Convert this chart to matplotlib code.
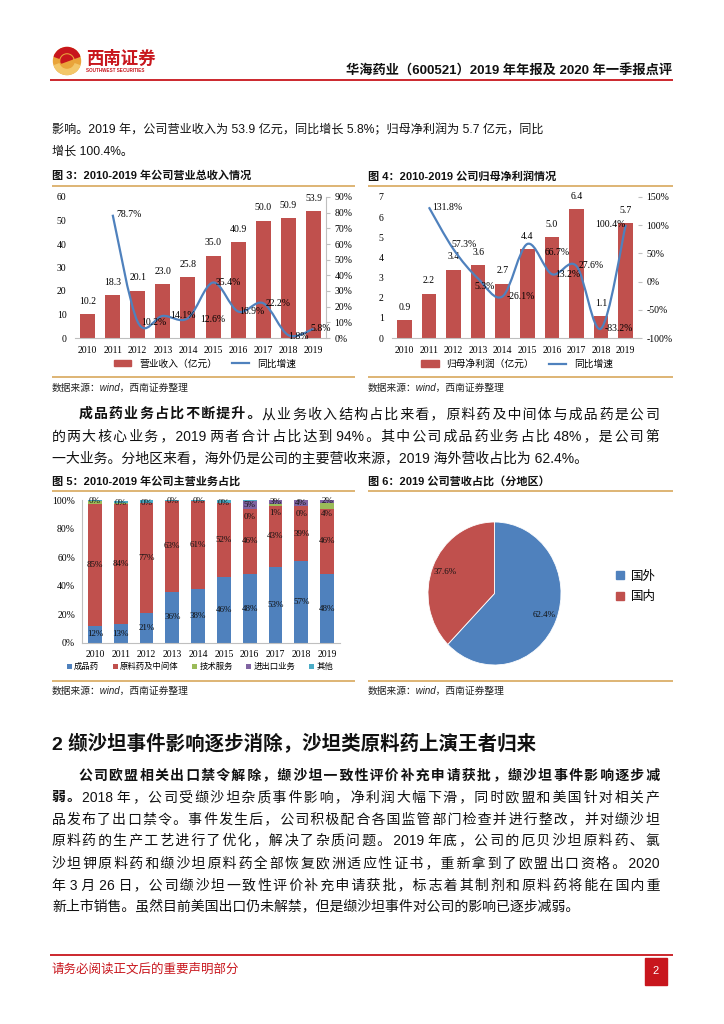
import matplotlib
matplotlib.use("Agg")
import matplotlib.pyplot as plt
import numpy as np
from matplotlib.lines import Line2D
from matplotlib.patches import Circle, PathPatch, Rectangle, Wedge
from matplotlib.path import Path

plt.rcParams["font.family"] = ["Liberation Serif", "Noto Sans CJK SC"]
plt.rcParams["axes.unicode_minus"] = False

W, H = 724, 1024
SANS = ["Liberation Sans", "Noto Sans CJK SC", "DejaVu Sans"]
HAIR = "\u200a"

RED = "#C0504D"
BLUE = "#4F81BD"
GREEN = "#9BBB59"
PURPLE = "#8064A2"
CYAN = "#4BACC6"
GOLD = "#D8A85C"
BRAND = "#C8161D"
GRID = "#BFBFBF"

# ---- data -------------------------------------------------------------
years = [str(y) for y in range(2010, 2020)]

revenue = [10.2, 18.3, 20.1, 23.0, 25.8, 35.0, 40.9, 50.0, 50.9, 53.9]
revenue_yoy = [78.7, 10.2, 14.1, 12.6, 35.4, 16.9, 22.2, 1.8, 5.8]  # 2011-2019

profit = [0.9, 2.2, 3.4, 3.6, 2.7, 4.4, 5.0, 6.4, 1.1, 5.7]
profit_yoy = [131.8, 57.3, 5.3, -26.1, 66.7, 13.2, 27.6, -83.2, 100.4]  # 2011-2019

mix_names = ["成品药", "原料药及中间体", "技术服务", "进出口业务", "其他"]
mix_finished = [12, 13, 21, 36, 38, 46, 48, 53, 57, 48]
mix_api = [85, 84, 77, 63, 61, 52, 46, 43, 39, 46]
mix_tech = [2, 1, 0, 0, 0, 0, 0, 1, 0, 4]
mix_trade = [0, 0, 0, 0, 0, 0, 5, 3, 4, 2]
mix_other = [1, 1, 2, 1, 1, 2, 1, 0, 0, 0]

region_names = ["国外", "国内"]
region_share = [62.4, 37.6]

# label nudges (pixels) for the growth-rate labels
rev_dx = [16, 16, 20, 25, 15, 14, 15, 10, 7]
rev_dy = [0, 0, 0, 1, 0, 0, 0, 1, 0]
pro_dx = [18, 11, 7, 18, 30, 16, 15, 18, -15]
pro_dy = [0, -5, 8, 0, 9, 0, -1, 0, 0]

BODY = 10

# ---- page -------------------------------------------------------------
fig = plt.figure(figsize=(W / 100, H / 100), dpi=100)
page = fig.add_axes([0, 0, 1, 1])
page.set_xlim(0, W)
page.set_ylim(H, 0)
page.axis("off")
renderer = fig.canvas.get_renderer()


def rect(x0, y0, x1, y1):
    return [x0 / W, 1 - y1 / H, (x1 - x0) / W, (y1 - y0) / H]


def fpt(x, y):
    return (x / W, 1 - y / H)


def hline(y, x0, x1, color, lw):
    page.plot([x0, x1], [y, y], color=color, lw=lw, solid_capstyle="butt")


def adv(s, size, bold):
    """advance width of s in pixels (trailing spaces included)."""
    kw = dict(fontsize=size, family=SANS, fontweight="bold" if bold else "normal")
    t1 = page.text(0, 0, s + "x", **kw)
    t2 = page.text(0, 0, "x", **kw)
    w = t1.get_window_extent(renderer).width - t2.get_window_extent(renderer).width
    t1.remove()
    t2.remove()
    return w


def body_line(x0, y, segments, x1=None, size=BODY):
    """one line of body text, padded with hair spaces to reach x1 when given."""
    em = size * 100 / 72
    base = y + em * 0.36
    chars = [c for s, _ in segments for c in s]
    slots = [i for i in range(len(chars) - 1)
             if not chars[i].isspace() and not chars[i + 1].isspace()
             and not (chars[i].isascii() and chars[i + 1].isascii())]
    k = 0
    if x1 is not None and slots:
        natural = sum(adv(s, size, b) for s, b in segments)
        hs = adv("a" + HAIR, size, False) - adv("a", size, False)
        if hs > 0.3:
            k = max(0, int(round((x1 - x0 - natural) / hs)))
    m = len(slots)
    extra = {i: (j + 1) * k // m - j * k // m for j, i in enumerate(slots)} if m else {}
    x = x0
    pos = 0
    for s, bold in segments:
        out = ""
        for c in s:
            out += c + HAIR * extra.get(pos, 0)
            pos += 1
        page.text(x, base, out, fontsize=size, family=SANS, va="baseline", ha="left",
                  fontweight="bold" if bold else "normal", color="#111111")
        x += adv(out, size, bold)


# header
page.add_patch(Circle((67, 61), 13.5, color="#E9A43A", zorder=2))
page.add_patch(Wedge((67, 61), 13.5, 200, 340, width=5, color=BRAND, zorder=3))
page.add_patch(Wedge((67, 61), 13.5, 20, 160, width=5, color="#F3C76A", zorder=3))
page.add_patch(Wedge((67, 61), 6, 160, 340, color=BRAND, zorder=4))
page.text(86, 58, "西南证券", fontsize=12.5, fontweight="bold", color=BRAND,
          family=SANS, va="center")
page.text(86, 71, "SOUTHWEST SECURITIES", fontsize=3.3, fontweight="bold",
          color=BRAND, family=SANS, va="center")
page.text(672, 71, "华海药业（600521）2019 年年报及 2020 年一季报点评", fontsize=9.5,
          fontweight="bold", family=SANS, ha="right", va="center", color="#111111")
hline(80, 50, 673, BRAND, 1.3)

body_line(52, 129, [("影响。2019 年，公司营业收入为 53.9 亿元，同比增长 5.8%；归母净利润为 5.7 亿元，同比", False)],
          size=8.7)
body_line(52, 150, [("增长 100.4%。", False)], size=8.7)

# figure frames
for x0, x1 in [(52, 355), (368, 673)]:
    hline(186, x0, x1, GOLD, 1.2)
    hline(377, x0, x1, GOLD, 1.2)
    hline(491, x0, x1, GOLD, 1.2)
    hline(681, x0, x1, GOLD, 1.2)
    page.text(x0, 388, "数据来源：wind，西南证券整理", fontsize=7, style="italic",
              family=SANS, va="center", color="#222222")
    page.text(x0, 691, "数据来源：wind，西南证券整理", fontsize=7, style="italic",
              family=SANS, va="center", color="#222222")

title_kw = dict(fontsize=8, fontweight="bold", family=SANS, va="center", color="#111111")
page.text(52, 176, "图 3：2010-2019 年公司营业总收入情况", **title_kw)
page.text(368, 176, "图 4：2010-2019 公司归母净利润情况", **title_kw)
page.text(52, 481, "图 5：2010-2019 年公司主营业务占比", **title_kw)
page.text(368, 481, "图 6：2019 公司营收占比（分地区）", **title_kw)


def smooth_path(xs, ys):
    pts = list(zip(xs, ys))
    n = len(pts)
    verts = [pts[0]]
    codes = [Path.MOVETO]
    for i in range(n - 1):
        p0 = pts[i - 1] if i > 0 else pts[i]
        p1, p2 = pts[i], pts[i + 1]
        p3 = pts[i + 2] if i + 2 < n else pts[i + 1]
        c1 = (p1[0] + (p2[0] - p0[0]) / 6, p1[1] + (p2[1] - p0[1]) / 6)
        c2 = (p2[0] - (p3[0] - p1[0]) / 6, p2[1] - (p3[1] - p1[1]) / 6)
        verts += [c1, c2, p2]
        codes += [Path.CURVE4] * 3
    return Path(verts, codes)


def pct(v, _=None):
    return f"{v * 100:.0f}%"


def bar_line_chart(box, values, yoy, dx, dy, ymax, rlim, rticks, bar_name, legend_x,
                   right_spine):
    idx = np.arange(len(years))
    ax = fig.add_axes(rect(*box))
    ax.patch.set_visible(False)
    bars = ax.bar(idx, values, width=0.6, color=RED)
    ax.bar_label(bars, labels=[f"{v:.1f}" for v in values], padding=6, fontsize=7)
    ax.set_xlim(-0.5, len(years) - 0.5)
    ax.set_ylim(0, ymax)
    ax.set_xticks(idx, years)
    ax.tick_params(labelsize=7, length=0, pad=6)
    for side in ["top", "left", "right"]:
        ax.spines[side].set_visible(False)
    ax.spines["bottom"].set_color(GRID)

    axr = ax.twinx()
    axr.set_ylim(*rlim)
    axr.set_yticks(rticks)
    axr.yaxis.set_major_formatter(pct)
    axr.tick_params(labelsize=7, length=3, color=GRID, pad=3)
    for side in ["top", "left", "bottom"]:
        axr.spines[side].set_visible(False)
    axr.spines["right"].set_visible(right_spine)
    axr.spines["right"].set_color(GRID)
    yy = [v / 100 for v in yoy]
    axr.add_patch(PathPatch(smooth_path(idx[1:], yy), fill=False, edgecolor=BLUE, lw=1.6))
    for i, v in enumerate(yoy):
        axr.annotate(f"{v}%", (idx[i + 1], yy[i]), xytext=(dx[i] * 0.72, -dy[i] * 0.72),
                     textcoords="offset points", ha="center", va="center", fontsize=7)
    handles = [Rectangle((0, 0), 1, 1, color=RED), Line2D([], [], color=BLUE, lw=1.6)]
    ax.legend(handles, [bar_name, "同比增速"], loc="center", ncol=2,
              bbox_to_anchor=fpt(legend_x, 364), bbox_transform=fig.transFigure,
              frameon=False, fontsize=7, handlelength=1.8, handleheight=0.6,
              columnspacing=1.5)
    return ax


bar_line_chart((75, 197, 326, 338), revenue, revenue_yoy, rev_dx, rev_dy, 60,
               (0, 0.9), np.arange(0, 0.91, 0.1), "营业收入（亿元）", 205, True)
bar_line_chart((392, 197, 638, 338), profit, profit_yoy, pro_dx, pro_dy, 7,
               (-1.0, 1.5), np.arange(-1.0, 1.51, 0.5), "归母净利润（亿元）", 517, False)

# ---- figure 5: stacked business mix ----------------------------------------
ax5 = fig.add_axes(rect(82, 500, 340, 643))
ax5.patch.set_visible(False)
idx = np.arange(len(years))
bottom = np.zeros(len(years))
series = [mix_finished, mix_api, mix_tech, mix_trade, mix_other]
colors = [BLUE, RED, GREEN, PURPLE, CYAN]
mids = []
for vals, name, col in zip(series, mix_names, colors):
    v = np.array(vals) / 100
    ax5.bar(idx, v, bottom=bottom, width=0.54, color=col, label=name)
    mids.append(bottom + v / 2)
    bottom += v
lab_kw = dict(ha="center", va="center", fontsize=6.5, color="#111111")
for i in idx:
    ax5.text(i, mids[0][i], f"{mix_finished[i]}%", **lab_kw)
    ax5.text(i, mids[1][i], f"{mix_api[i]}%", **lab_kw)
    ax5.text(i, mids[3][i], f"{mix_trade[i]}%", **lab_kw)
    if mix_trade[i] > 0:
        ax5.annotate(f"{mix_tech[i]}%", (i, mids[2][i]), xytext=(0, -6),
                     textcoords="offset points", **lab_kw)
ax5.set_xlim(-0.5, len(years) - 0.5)
ax5.set_ylim(0, 1.0)
ax5.set_yticks(np.arange(0, 1.01, 0.2))
ax5.yaxis.set_major_formatter(pct)
ax5.set_xticks(idx, years)
ax5.tick_params(labelsize=7, length=0, pad=5)
for side in ["top", "right"]:
    ax5.spines[side].set_visible(False)
ax5.spines["left"].set_color(GRID)
ax5.spines["bottom"].set_color(GRID)
ax5.legend(loc="center", ncol=5, bbox_to_anchor=fpt(200, 667),
           bbox_transform=fig.transFigure, frameon=False, fontsize=6,
           handlelength=0.6, handleheight=0.6, handletextpad=0.3, columnspacing=1.6)

# ---- figure 6: region pie ------------------------------------------------
ax6 = fig.add_axes(rect(428, 522, 561, 665))
ax6.pie(region_share, colors=[BLUE, RED], startangle=90, counterclock=False,
        autopct="%.1f%%", pctdistance=0.8, textprops=dict(fontsize=6.5, color="#111111"),
        wedgeprops=dict(edgecolor="white", linewidth=0.6))
ax6.set_aspect("auto")
ax6.set_xlim(-1, 1)
ax6.set_ylim(-1, 1)
handles = [Rectangle((0, 0), 1, 1, color=c) for c in [BLUE, RED]]
ax6.legend(handles, region_names, loc="center left", bbox_to_anchor=fpt(605, 587),
           bbox_transform=fig.transFigure, frameon=False, fontsize=9,
           handlelength=0.6, handleheight=0.6, handletextpad=0.6, labelspacing=0.7)

# ---- middle paragraph ----------------------------------------------------
body_line(79, 413, [("成品药业务占比不断提升。", True),
                    ("从业务收入结构占比来看，原料药及中间体与成品药是公司", False)], 660)
body_line(52, 435, [("的两大核心业务，2019 两者合计占比达到 94%。其中公司成品药业务占比 48%，是公司第", False)], 660)
body_line(52, 457, [("一大业务。分地区来看，海外仍是公司的主要营收来源，2019 海外营收占比为 62.4%。", False)])

# ---- section 2 -----------------------------------------------------------
page.text(52, 743, "2 缬沙坦事件影响逐步消除，沙坦类原料药上演王者归来", fontsize=14,
          fontweight="bold", family=SANS, va="center", color="#111111")
paragraph = [
    (79, [("公司欧盟相关出口禁令解除，缬沙坦一致性评价补充申请获批，缬沙坦事件影响逐步减", True)], 660),
    (52, [("弱。", True), ("2018 年，公司受缬沙坦杂质事件影响，净利润大幅下滑，同时欧盟和美国针对相关产", False)], 660),
    (52, [("品发布了出口禁令。事件发生后，公司积极配合各国监管部门检查并进行整改，并对缬沙坦", False)], 660),
    (52, [("原料药的生产工艺进行了优化，解决了杂质问题。2019 年底，公司的厄贝沙坦原料药、氯", False)], 660),
    (52, [("沙坦钾原料药和缬沙坦原料药全部恢复欧洲适应性证书，重新拿到了欧盟出口资格。2020", False)], 660),
    (52, [("年 3 月 26 日，公司缬沙坦一致性评价补充申请获批，标志着其制剂和原料药将能在国内重", False)], 660),
    (52, [("新上市销售。虽然目前美国出口仍未解禁，但是缬沙坦事件对公司的影响已逐步减弱。", False)], None),
]
for row, (x0, segs, x1) in enumerate(paragraph):
    body_line(x0, 774 + 22 * row, segs, x1)

# ---- footer --------------------------------------------------------------
hline(955, 50, 673, BRAND, 1.3)
page.text(52, 970, "请务必阅读正文后的重要声明部分", fontsize=9, color=BRAND,
          family=SANS, va="center")
page.add_patch(Rectangle((645, 958), 22, 27, color=BRAND))
page.text(656, 971, "2", fontsize=8, color="white", family=SANS, ha="center", va="center")

fig.savefig("out.png", dpi=100)
